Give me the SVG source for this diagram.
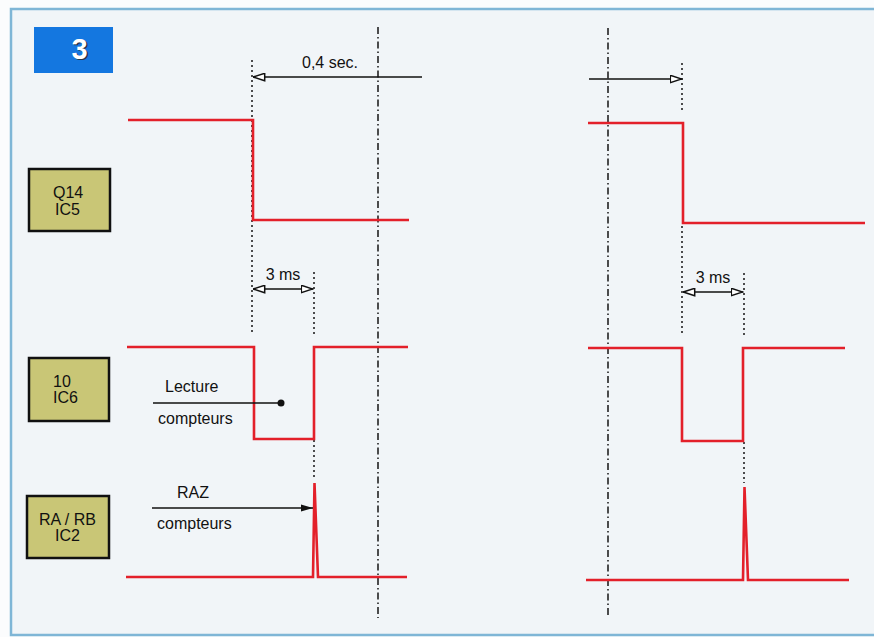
<svg xmlns="http://www.w3.org/2000/svg" width="874" height="637" viewBox="0 0 874 637">
<defs>
<style>
.txt{font-family:"Liberation Sans",Arial,sans-serif;font-size:16px;fill:#111}
.box{fill:#c9c676;stroke:#111;stroke-width:2.5}
.sig{fill:none;stroke:#e3202a;stroke-width:2.6;stroke-linejoin:miter}
.dd{stroke:#222;stroke-width:1.6;stroke-dasharray:7 3 1.5 3;fill:none}
.dot{stroke:#222;stroke-width:1.6;stroke-dasharray:2 3;fill:none}
.arr{stroke:#111;stroke-width:1.7;fill:none}
</style>
<marker id="open" viewBox="0 0 13 9" refX="12.5" refY="4.5" markerWidth="13" markerHeight="9" markerUnits="userSpaceOnUse" orient="auto-start-reverse">
<path d="M0.8,0.8 L12.2,4.5 L0.8,8.2 Z" fill="#fff" stroke="#111" stroke-width="1.5"/>
</marker>
<marker id="fill" viewBox="0 0 12 8" refX="12" refY="4" markerWidth="12" markerHeight="8" markerUnits="userSpaceOnUse" orient="auto">
<path d="M0,0.5 L12,4 L0,7.5 Z" fill="#111"/>
</marker>
</defs>
<rect width="874" height="637" fill="#fbfcfd"/>
<rect x="11" y="9" width="870" height="626" fill="#f1f5f8" stroke="#7fb6d6" stroke-width="2.5"/>

<g id="badge">
<rect x="34" y="27" width="79" height="46" fill="#1477e0"/>
<text x="81" y="60" text-anchor="middle" font-family="'Liberation Sans',Arial,sans-serif" font-weight="bold" font-size="29" fill="#26364a">3</text>
<text x="79.5" y="58.5" text-anchor="middle" font-family="'Liberation Sans',Arial,sans-serif" font-weight="bold" font-size="29" fill="#fff">3</text>
</g>

<g id="label-q14">
<rect class="box" x="29" y="169" width="81" height="62"/>
<text class="txt" x="53" y="198">Q14</text>
<text class="txt" x="55" y="215">IC5</text>
</g>
<g id="label-10">
<rect class="box" x="29" y="358" width="80" height="63"/>
<text class="txt" x="53" y="387">10</text>
<text class="txt" x="53" y="403">IC6</text>
</g>
<g id="label-ra">
<rect class="box" x="27" y="496" width="82" height="62"/>
<text class="txt" x="39" y="525">RA / RB</text>
<text class="txt" x="55" y="541">IC2</text>
</g>

<g id="guides">
<line class="dd" x1="378" y1="27" x2="378" y2="618"/>
<line class="dd" x1="608" y1="28" x2="608" y2="618"/>
<line class="dot" x1="252" y1="60" x2="252" y2="335"/>
<line class="dot" x1="314" y1="272" x2="314" y2="335"/>
<line class="dot" x1="314" y1="440" x2="314" y2="478"/>
<line class="dot" x1="682" y1="63" x2="682" y2="110"/>
<line class="dot" x1="682" y1="226" x2="682" y2="336"/>
<line class="dot" x1="744" y1="273" x2="744" y2="338"/>
<line class="dot" x1="744" y1="442" x2="744" y2="483"/>
</g>

<g id="signals">
<path class="sig" d="M128,120 H253 V220 H409"/>
<path class="sig" d="M588,123 H683 V223 H865"/>
<path class="sig" d="M127,347 H254 V439 H314 V347 H408"/>
<path class="sig" d="M588,348 H682 V441 H743 V348 H845"/>
<path class="sig" stroke-width="2.2" d="M126,577 H313 L314.5,483 L318,577 H407"/>
<path class="sig" stroke-width="2.2" d="M586,580 H743 L744.5,487 L748,580 H849"/>
</g>

<g id="connectors">
<line class="arr" x1="422" y1="77" x2="253" y2="77" marker-end="url(#open)"/>
<line class="arr" x1="589" y1="79" x2="682" y2="79" marker-end="url(#open)"/>
<line class="arr" x1="253" y1="289" x2="313" y2="289" marker-start="url(#open)" marker-end="url(#open)"/>
<line class="arr" x1="683" y1="292" x2="743" y2="292" marker-start="url(#open)" marker-end="url(#open)"/>
<line class="arr" x1="153" y1="403" x2="281" y2="403"/>
<circle cx="281" cy="403" r="3.5" fill="#111"/>
<line class="arr" x1="152" y1="508" x2="313" y2="508" marker-end="url(#fill)"/>
</g>

<g id="labels">
<text class="txt" x="302" y="68">0,4 sec.</text>
<text class="txt" x="283" y="280" text-anchor="middle">3 ms</text>
<text class="txt" x="713" y="283" text-anchor="middle">3 ms</text>
<text class="txt" x="165" y="392">Lecture</text>
<text class="txt" x="158" y="424">compteurs</text>
<text class="txt" x="177" y="498">RAZ</text>
<text class="txt" x="157" y="529">compteurs</text>
</g>
</svg>
